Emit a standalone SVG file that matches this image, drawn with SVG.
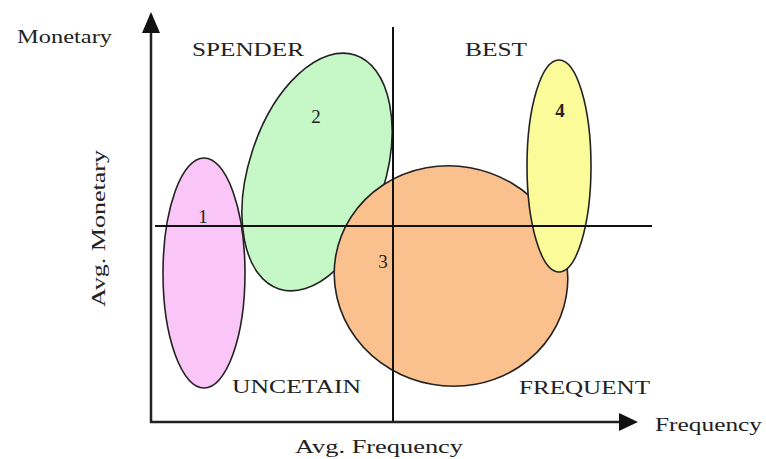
<svg xmlns="http://www.w3.org/2000/svg" width="766" height="459" viewBox="0 0 766 459">
<defs>
<style>
text{font-family:"Liberation Serif","Times New Roman",serif;fill:#222;font-size:19px}
.lbl{font-size:19px}
.num{font-size:19px;text-anchor:middle}
.ell{stroke:#222;stroke-width:1.6}
.axis{stroke:#222;stroke-width:2.5;fill:none}
.div{stroke:#111;stroke-width:2;fill:none}
</style>
<marker id="arr" markerWidth="8" markerHeight="8" refX="7" refY="4" orient="auto" markerUnits="userSpaceOnUse" viewBox="0 0 8 8">
<path d="M0,0 L8,4 L0,8 Z" fill="#111"/>
</marker>
</defs>
<rect width="766" height="459" fill="#fff"/>
<g id="cluster2"><ellipse class="ell" cx="317" cy="172" rx="68" ry="123" transform="rotate(18 317 172)" fill="#c6f7c6"/><text class="num" x="316" y="123">2</text></g>
<g id="cluster1"><ellipse class="ell" cx="204" cy="273" rx="41" ry="115" fill="#f9c6f7"/><text class="num" x="203" y="223">1</text></g>
<g id="cluster3"><ellipse class="ell" cx="451" cy="276" rx="117" ry="110" transform="rotate(10 451 276)" fill="#fac18f"/><text class="num" x="383" y="268">3</text></g>
<g id="cluster4"><ellipse class="ell" cx="559" cy="166" rx="32" ry="106" fill="#fbfb9a"/><text class="num" x="560" y="117" font-weight="bold">4</text></g>
<g id="connectors">
<path class="div" d="M155,226 H652"/>
<path class="div" d="M393,27 V422" stroke-width="1.6"/>
<path d="M151,423 V15" stroke="#222" stroke-width="2.5"/>
<path d="M142,33 L151,12 L160,33 Z" fill="#111"/>
<path d="M150,422 H622" stroke="#222" stroke-width="2.5"/>
<path d="M619,413 L638,422 L619,431 Z" fill="#111"/>
</g>
<g id="labels">
<text x="17" y="43" textLength="95" lengthAdjust="spacingAndGlyphs" font-size="18">Monetary</text>
<text x="192" y="56" textLength="112" lengthAdjust="spacingAndGlyphs">SPENDER</text>
<text x="465" y="56" textLength="62" lengthAdjust="spacingAndGlyphs">BEST</text>
<text x="232" y="393" textLength="129" lengthAdjust="spacingAndGlyphs">UNCETAIN</text>
<text x="519" y="394" textLength="131" lengthAdjust="spacingAndGlyphs">FREQUENT</text>
<text x="655" y="431" textLength="107" lengthAdjust="spacingAndGlyphs">Frequency</text>
<text x="295" y="453" textLength="168" lengthAdjust="spacingAndGlyphs">Avg. Frequency</text>
<text transform="translate(105 307) rotate(-90)" textLength="157" lengthAdjust="spacingAndGlyphs">Avg. Monetary</text>
</g>
</svg>
